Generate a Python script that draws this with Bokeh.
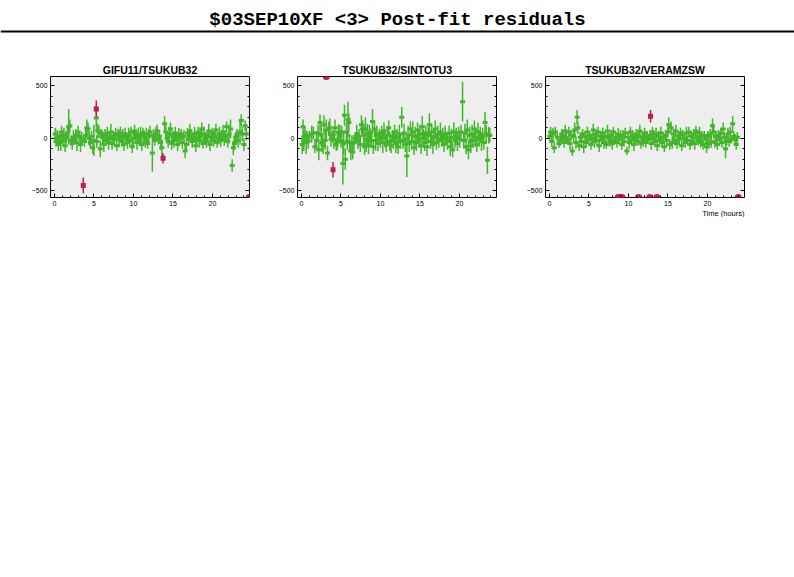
from bokeh.plotting import figure
from bokeh.models import Range1d, LinearAxis, FixedTicker, Span, Title
from bokeh.layouts import column, row
from bokeh.embed import file_html
from bokeh.resources import INLINE
from bokeh.core.properties import value

MAIN_TITLE = "$03SEP10XF <3> Post-fit residuals"
PANEL_TITLES = ["GIFU11/TSUKUB32", "TSUKUB32/SINTOTU3", "TSUKUB32/VERAMZSW"]
X_LABEL = "Time (hours)"
X_TICKS = [0, 5, 10, 15, 20]
X_MINOR = list(range(0, 25))
Y_TICKS = [-500, 0, 500]
Y_MINOR = [-500, -400, -300, -200, -100, 0, 100, 200, 300, 400, 500]
Y_MIN, Y_MAX = -565, 590

# ---- Panel 1: GIFU11/TSUKUB32 ----
t1 = [0.1, 0.2, 0.35, 0.5, 0.6, 0.8, 0.9, 1.05, 1.2, 1.35, 1.5, 1.65, 1.8, 1.95, 2.1, 2.25, 2.4, 2.55, 2.7, 2.85,
      3.0, 3.15, 3.3, 3.45, 3.8, 3.95, 4.1, 4.25, 4.4, 4.55, 4.7, 4.85, 5.0, 5.3, 5.35, 5.5, 5.65, 5.8, 5.95, 6.1,
      6.25, 6.4, 6.55, 6.7, 6.85, 7.0, 7.15, 7.3, 7.45, 7.6, 7.75, 7.9, 8.05, 8.2, 8.35, 8.5, 8.65, 8.8, 8.95, 9.1,
      9.25, 9.4, 9.55, 9.7, 9.85, 10.0, 10.15, 10.3, 10.45, 10.6, 10.75, 10.9, 11.05, 11.2, 11.35, 11.5, 11.65, 11.8,
      11.95, 12.1, 12.4, 12.55, 12.7, 12.85, 13.0, 13.15, 13.3, 13.45, 13.6, 13.95, 14.1, 14.25, 14.4, 14.55, 14.7,
      14.85, 15.0, 15.15, 15.3, 15.45, 15.6, 15.75, 15.9, 16.05, 16.2, 16.4, 16.55, 16.7, 16.85, 17.0, 17.15, 17.3,
      17.45, 17.6, 17.75, 17.9, 18.05, 18.2, 18.35, 18.5, 18.65, 18.8, 18.95, 19.1, 19.25, 19.4, 19.55, 19.7, 19.85,
      20.0, 20.15, 20.3, 20.45, 20.6, 20.75, 20.9, 21.05, 21.2, 21.35, 21.5, 21.65, 21.8, 21.95, 22.1, 22.3, 22.5,
      22.65, 22.8, 22.95, 23.1, 23.25, 23.5, 23.65, 23.8, 24.0, 24.15, 24.3]
r1 = [40, -30, 10, -60, 20, -40, 60, -20, 30, -70, 0, 50, 110, 120, -20, -50, 10, -10, 30, -40,
      60, 20, -60, 0, -30, 30, 100, 90, 0, -40, 20, -90, -20, 195, -30, 70, 60, -100, 40, 10,
      -60, 30, -20, 50, -40, 0, 60, -50, 20, -10, 40, -70, 30, 0, 50, -30, 20, -60, 40, 10,
      -40, 30, -20, 60, -80, 0, 70, 20, -40, 40, -10, 30, -60, 50, 10, -30, 40, -50,
      20, 60, -140, 30, -20, 40, 70, -10, 20, -40, -90, 140, 60, 0, -30, 40, 90,
      -50, 20, -20, 50, 10, -60, 30, 0, 40, -40, 20, -120, -60, 50, -10, 70, 30, -30,
      10, 40, -70, 0, 60, -20, 20, 90, -50, 40, 0, -30, 30, 70, -60, 10, 50,
      -20, 20, 80, -40, 0, 40, -20, 30, 60, -10, 20, 110, -30, 40, 90, -260, -90,
      -50, 10, 30, -20, 60, 170, 40, -60, 120, 40, -80]
e1 = [60, 50, 70, 60, 50, 80, 60, 50, 70, 60, 50, 60, 170, 60, 50, 60, 70, 50, 60, 80,
      60, 50, 70, 60, 50, 60, 80, 60, 70, 60, 50, 60, 150, 120, 60, 70, 60, 80, 50, 60,
      70, 60, 50, 60, 70, 60, 80, 60, 50, 70, 60, 50, 60, 80, 60, 50, 70, 60, 60, 50,
      60, 70, 60, 50, 60, 80, 60, 50, 70, 60, 60, 80, 60, 50, 70, 60, 60, 50,
      70, 60, 180, 60, 50, 70, 60, 50, 60, 70, 80, 70, 60, 50, 60, 70, 60,
      60, 50, 70, 60, 50, 60, 70, 60, 50, 60, 60, 70, 60, 50, 60, 70, 60,
      60, 50, 70, 60, 60, 50, 70, 60, 60, 50, 70, 60, 60, 50, 70, 60, 60,
      50, 60, 70, 60, 50, 60, 70, 60, 50, 70, 60, 60, 50, 60, 90, 90, 60,
      70, 60, 50, 60, 70, 120, 60, 70, 60, 50, 60]
t1_out = [3.65, 5.3, 13.75, 24.65]
r1_out = [-450, 280, -190, -565]
e1_out = [75, 80, 50, 0]

# ---- Panel 2: TSUKUB32/SINTOTU3 ----
t2 = [0.1, 0.2, 0.3, 0.45, 0.6, 0.7, 0.85, 1.0, 1.3, 1.5, 1.7, 1.9, 2.1, 2.2, 2.35, 2.5, 2.6, 2.75, 2.85, 3.0,
      3.15, 3.3, 3.45, 3.6, 3.75, 3.9, 4.1, 4.25, 4.4, 4.55, 4.7, 4.85, 5.0, 5.1, 5.25, 5.35, 5.45, 5.55, 5.7, 5.8,
      5.9, 6.0, 6.1, 6.25, 6.4, 6.5, 6.65, 6.85, 7.0, 7.15, 7.3, 7.45, 7.6, 7.75, 7.9, 8.0, 8.1, 8.2, 8.35, 8.5,
      8.6, 8.7, 8.85, 9.0, 9.1, 9.25, 9.4, 9.55, 9.7, 9.85, 10.0, 10.15, 10.3, 10.45, 10.6, 10.75, 10.9, 11.05,
      11.2, 11.35, 11.5, 11.65, 11.8, 11.95, 12.1, 12.25, 12.4, 12.55, 12.7, 12.85, 13.0, 13.15, 13.35, 13.5,
      13.65, 13.8, 13.95, 14.1, 14.25, 14.4, 14.55, 14.7, 14.85, 15.0, 15.15, 15.3, 15.45, 15.6, 15.75, 15.9,
      16.05, 16.2, 16.35, 16.5, 16.65, 16.8, 16.95, 17.1, 17.25, 17.4, 17.6, 17.75, 17.9, 18.05, 18.2, 18.35,
      18.5, 18.7, 18.85, 19.0, 19.15, 19.3, 19.45, 19.6, 19.75, 19.9, 20.05, 20.2, 20.4, 20.55, 20.7, 20.85,
      21.0, 21.15, 21.3, 21.45, 21.6, 21.75, 21.9, 22.05, 22.2, 22.35, 22.5, 22.65, 22.8, 22.95, 23.1, 23.25,
      23.4, 23.55, 23.7, 23.85]
r2 = [-60, 110, -20, 30, -40, 10, -30, 20, 40, 50, -80, -20, 50, -110, 150, 30, -40, -70, 130, -20,
      80, -140, 90, 100, -10, 20, -10, 100, -60, -30, 60, 40, -20, 60, -240, -50, 220, -200, 60, -30,
      180, 150, -40, -120, -50, -130, -40, 0, 40, -20, 20, -60, 130, 90, 30, -80, 90, -60, 40, -70,
      60, 20, -20, 160, -80, 90, -20, 40, -50, 30, -10, 50, -40, 70, 0, -60, 30, 100,
      -30, -70, 20, -20, 60, -50, 10, -80, 40, -30, 200, -20, 50, -60, -170, 30,
      -50, 90, -30, 60, -90, 20, -40, 80, -10, 40, -70, 110, 0, -40, 50, -80,
      30, 130, -30, 60, -60, 10, 90, -40, 40, -20, 60, -10, 20, -60, 40, 0,
      -30, 50, -80, 10, -110, 60, -20, 20, -50, 50, -10, 60, 350, -20, 50, -80,
      80, -110, 30, -70, 40, -20, 90, 10, -60, 60, 0, 40, -30, 20, -40, 150,
      40, -210, 30, 30]
e2 = [90, 70, 100, 80, 110, 60, 70, 50, 80, 60, 60, 90, 80, 100, 80, 100, 90, 80, 90, 90,
      100, 70, 70, 90, 70, 60, 90, 80, 60, 80, 70, 90, 70, 60, 200, 100, 100, 100, 90, 80,
      170, 90, 80, 90, 80, 70, 70, 60, 90, 80, 70, 70, 90, 80, 100, 80, 110, 70, 100, 80,
      70, 80, 70, 120, 70, 80, 100, 80, 70, 60, 80, 70, 100, 80, 90, 70, 80, 70,
      90, 70, 60, 80, 70, 90, 80, 70, 90, 70, 100, 80, 90, 70, 200, 90,
      80, 70, 80, 100, 70, 90, 80, 70, 80, 90, 80, 100, 90, 80, 70, 90,
      80, 110, 70, 80, 90, 70, 80, 70, 80, 70, 90, 70, 80, 70, 80, 60,
      80, 70, 90, 80, 70, 90, 70, 80, 70, 60, 80, 70, 190, 80, 90, 70,
      100, 90, 80, 70, 90, 70, 80, 90, 70, 90, 80, 70, 90, 80, 70, 100,
      90, 130, 80, 70]
t2_out = [3.15, 4.0]
r2_out = [590, -300]
e2_out = [0, 75]

# ---- Panel 3: TSUKUB32/VERAMZSW ----
t3 = [0.05, 0.15, 0.3, 0.45, 0.6, 0.75, 1.0, 1.2, 1.4, 1.55, 1.7, 1.85, 2.0, 2.15, 2.3, 2.45, 2.6, 2.75, 2.9, 3.05,
      3.2, 3.35, 3.5, 3.6, 3.75, 3.9, 4.05, 4.2, 4.35, 4.5, 4.65, 4.8, 4.95, 5.1, 5.25, 5.4, 5.55, 5.7, 5.85, 6.0,
      6.15, 6.3, 6.45, 6.6, 6.75, 6.9, 7.05, 7.2, 7.35, 7.5, 7.65, 7.8, 7.95, 8.1, 8.25, 8.4, 8.55, 8.7, 8.85, 9.0,
      9.15, 9.3, 9.45, 9.6, 9.8, 9.95, 10.1, 10.25, 10.4, 10.55, 10.7, 10.85, 11.0, 11.15, 11.3, 11.45, 11.6, 11.75,
      11.9, 12.05, 12.2, 12.4, 12.55, 12.75, 12.9, 13.05, 13.2, 13.35, 13.5, 13.65, 13.8, 13.95, 14.1, 14.25, 14.4,
      14.55, 14.7, 14.85, 15.0, 15.1, 15.25, 15.4, 15.55, 15.7, 15.85, 16.0, 16.15, 16.3, 16.45, 16.6, 16.75, 16.9,
      17.05, 17.2, 17.35, 17.5, 17.65, 17.8, 17.95, 18.1, 18.25, 18.4, 18.55, 18.7, 18.85, 19.0, 19.15, 19.3, 19.45,
      19.6, 19.75, 19.9, 20.05, 20.2, 20.35, 20.5, 20.65, 20.8, 20.95, 21.1, 21.25, 21.4, 21.55, 21.7, 21.85, 22.0,
      22.15, 22.3, 22.45, 22.6, 22.75, 22.9, 23.05, 23.2, 23.35, 23.5, 23.65, 23.8]
r3 = [20, 60, -30, 40, -90, 60, 10, -50, -20, 40, 20, -40, 70, 0, -20, 60, -50, 30, -120, 20,
      80, -40, 200, 100, -70, 10, -30, 40, -80, 20, -40, 60, -10, 30, -60, 0, 80, -30, 40, -20,
      60, -70, 20, -10, 50, -40, 20, -60, 70, 0, -30, 30, -50, 60, -20, 10, -40, 40, -10, 30,
      -60, 20, -30, 50, -120, 10, -40, 60, -20, 30, -60, 0, 40, -30, 20, 70, -50, 10,
      -20, 50, -40, 20, -10, 30, -50, 60, 0, -30, 40, -70, 20, -20, 50, -40, 10,
      -80, 30, -20, 60, 130, -60, 100, -40, 40, -20, 70, -50, 20, -10, 50, -70, 30,
      0, -40, 50, -20, 60, -60, 20, -30, 40, -50, 70, 10, -20, 50, -40, 20, -60,
      30, -10, -80, 20, -50, 40, -30, 120, 60, -40, 20, -60, 30, -10, 50, -40, 90,
      10, -100, -20, 40, -30, 60, -10, 140, 20, -10, -60, 10]
e3 = [40, 50, 50, 60, 50, 50, 40, 40, 50, 50, 60, 50, 60, 50, 40, 50, 60, 50, 50, 60,
      70, 60, 70, 60, 50, 50, 60, 50, 60, 50, 50, 50, 50, 40, 50, 50, 60, 60, 50, 50,
      50, 60, 50, 50, 50, 60, 50, 40, 60, 50, 50, 50, 60, 50, 40, 50, 50, 60, 50, 50,
      50, 60, 50, 50, 40, 50, 60, 50, 50, 50, 60, 50, 50, 40, 50, 60, 50, 50,
      60, 50, 50, 50, 40, 50, 60, 50, 50, 50, 60, 50, 50, 50, 60, 50, 50,
      50, 50, 60, 50, 70, 50, 60, 60, 50, 50, 60, 50, 50, 60, 50, 50, 50,
      40, 50, 60, 50, 50, 50, 50, 40, 50, 60, 50, 50, 50, 60, 50, 50, 50,
      40, 50, 60, 50, 50, 50, 60, 70, 60, 50, 50, 50, 50, 60, 50, 50, 60,
      50, 90, 50, 60, 50, 50, 40, 70, 50, 50, 50, 50]
t3_out = [12.8]
r3_out = [210]
e3_out = [60]
t3_edge = [8.7, 8.95, 9.2, 11.3, 12.7, 13.6, 23.9]
r3_edge = [-565, -565, -565, -565, -565, -565, -565]

GREEN = "#43b52b"
RED = "#c01e48"
BG = "#eeeeee"
TICK_FONT = "Liberation Sans"


def make_panel(title, t, r, e, to, ro, eo, left, right, xlabel=None, edge_t=None, edge_r=None):
    p = figure(frame_width=199, frame_height=121,
               x_range=Range1d(-0.5, 24.7), y_range=Range1d(Y_MIN, Y_MAX),
               output_backend="svg", toolbar_location=None,
               min_border_left=left, min_border_right=right,
               min_border_top=28, min_border_bottom=20,
               background_fill_color=BG, border_fill_color="white",
               outline_line_color="black", outline_line_width=1)
    p.title.text = title
    p.title.align = "center"
    p.title.text_font = "Liberation Sans"
    p.title.text_font_size = "10.5px"
    p.title.text_font_style = "bold"
    p.title.text_color = "black"
    p.title.standoff = 1
    p.title.offset = 0
    p.grid.visible = False

    p.xaxis.ticker = FixedTicker(ticks=X_TICKS, minor_ticks=X_MINOR)
    p.yaxis.ticker = FixedTicker(ticks=Y_TICKS, minor_ticks=Y_MINOR)
    for ax in (p.xaxis[0], p.yaxis[0]):
        ax.axis_line_color = None
        ax.major_tick_in = 4
        ax.major_tick_out = 0
        ax.minor_tick_in = 2
        ax.minor_tick_out = 0
        ax.major_tick_line_color = "black"
        ax.minor_tick_line_color = "black"
        ax.major_label_text_font = TICK_FONT
        ax.major_label_text_font_size = "7px"
        ax.major_label_text_color = "black"
        ax.major_label_standoff = 3

    ra = LinearAxis(ticker=FixedTicker(ticks=Y_TICKS, minor_ticks=Y_MINOR),
                    axis_line_color=None, major_tick_in=4, major_tick_out=0,
                    minor_tick_in=2, minor_tick_out=0,
                    major_tick_line_color="black", minor_tick_line_color="black",
                    major_label_text_font_size="0px", major_label_standoff=0,
                    major_label_overrides={-500: "", 0: "", 500: ""})
    p.add_layout(ra, "right")

    y0 = [a - b for a, b in zip(r, e)]
    y1 = [a + b for a, b in zip(r, e)]
    p.segment(x0=t, y0=y0, x1=t, y1=y1, line_color=GREEN, line_width=1.5)
    p.rect(x=t, y=r, width=5, height=3, width_units="screen", height_units="screen",
           fill_color=GREEN, line_color=None)

    oy0 = [a - b for a, b in zip(ro, eo)]
    oy1 = [a + b for a, b in zip(ro, eo)]
    p.segment(x0=to, y0=oy0, x1=to, y1=oy1, line_color=RED, line_width=1.5)
    p.scatter(x=to, y=ro, marker="square", size=5, fill_color=RED, line_color=None)

    if edge_t:
        p.scatter(x=edge_t, y=edge_r, marker="circle", size=7, fill_color=RED, line_color=None)

    if xlabel:
        p.add_layout(Title(text=xlabel, align="right", text_font="Liberation Sans",
                           text_font_size="7.5px", text_font_style="normal",
                           text_color="black", standoff=-3, offset=0), "below")
    return p


header = figure(width=794, height=48, x_range=Range1d(0, 1), y_range=Range1d(0, 48),
                output_backend="svg", toolbar_location=None,
                x_axis_type=None, y_axis_type=None, min_border=0,
                outline_line_color=None, background_fill_color="white",
                border_fill_color="white")
header.grid.visible = False
header.text(x=[0.5], y=[29], text=[MAIN_TITLE], text_align="center", text_baseline="middle",
            text_font=value("Liberation Mono"), text_font_style="bold",
            text_font_size="19px", text_color="black")
header.add_layout(Span(location=17, dimension="width", line_color="black", line_width=2))

p1 = make_panel(PANEL_TITLES[0], t1, r1, e1, t1_out[:3], r1_out[:3], e1_out[:3], 50, 6,
                edge_t=t1_out[3:], edge_r=r1_out[3:])
p2 = make_panel(PANEL_TITLES[1], t2, r2, e2, t2_out[1:], r2_out[1:], e2_out[1:], 42, 7,
                edge_t=t2_out[:1], edge_r=r2_out[:1])
p3 = make_panel(PANEL_TITLES[2], t3, r3, e3, t3_out, r3_out, e3_out, 42, 8, X_LABEL,
                edge_t=t3_edge, edge_r=r3_edge)

layout = column(header, row(p1, p2, p3))
open("out.html", "w").write(file_html(layout, INLINE))
